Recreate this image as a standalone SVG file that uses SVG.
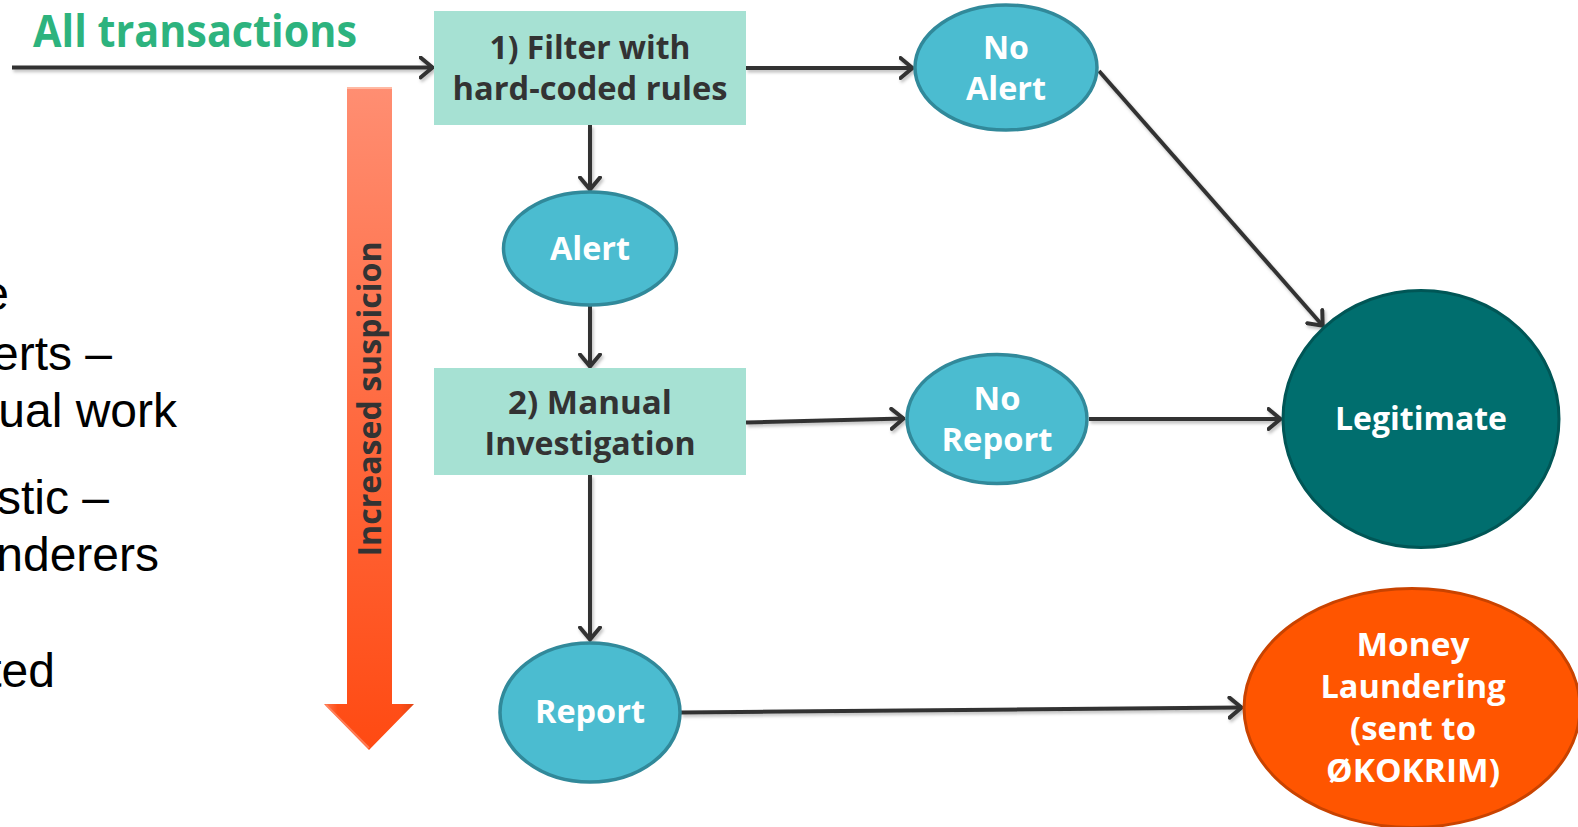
<svg xmlns="http://www.w3.org/2000/svg" width="1578" height="827" viewBox="0 0 1578 827">
  <defs>
    <style>
      .box { fill: #A6E1D3; }
      .oval { fill: #4BBCD0; stroke: #31899A; stroke-width: 3.5; }
      .legit { fill: #006E6E; stroke: #005656; stroke-width: 3; }
      .ml { fill: #FF5500; stroke: #C94300; stroke-width: 3; }
      .lbl { font-family: "Open Sans", "Noto Sans", sans-serif; font-weight: 700; text-anchor: middle; }
      .dark { fill: #333333; font-size: 32px; }
      .light { fill: #FFFFFF; font-size: 32px; }
      .conn { fill: none; stroke: #333333; stroke-width: 4; }
      .side { font-family: "Liberation Sans", Arial, sans-serif; font-size: 48px; fill: #000000; text-anchor: end; }
    </style>
    <marker id="head" viewBox="0 0 16 24" refX="14.5" refY="12" markerWidth="16" markerHeight="24" markerUnits="userSpaceOnUse" orient="auto">
      <path d="M2,2 L14,12 L2,22" fill="none" stroke="#333333" stroke-width="4" stroke-linejoin="miter" stroke-linecap="round"/>
    </marker>
    <filter id="shade" x="-5%" y="-20%" width="110%" height="140%">
      <feDropShadow dx="1.5" dy="2.5" stdDeviation="1.5" flood-color="#000000" flood-opacity="0.25"/>
    </filter>
    <linearGradient id="suspV" x1="0" y1="0" x2="0" y2="1">
      <stop offset="0" stop-color="#FF8E72"/>
      <stop offset="0.5" stop-color="#FF6A40"/>
      <stop offset="1" stop-color="#FF4A12"/>
    </linearGradient>
    <linearGradient id="suspH" x1="0" y1="0" x2="1" y2="0">
      <stop offset="0" stop-color="#FFFFFF" stop-opacity="0.25"/>
      <stop offset="0.15" stop-color="#FFFFFF" stop-opacity="0"/>
      <stop offset="0.85" stop-color="#000000" stop-opacity="0"/>
      <stop offset="1" stop-color="#000000" stop-opacity="0.12"/>
    </linearGradient>
  </defs>

  <rect width="1578" height="827" fill="#FFFFFF"/>

  <!-- cut-off bullet text on the left edge -->
  <g id="side-notes">
    <text class="side" x="9" y="310">e</text>
    <text class="side" x="112" y="370">erts –</text>
    <text class="side" x="177" y="427">ual work</text>
    <text class="side" x="109" y="514">stic –</text>
    <text class="side" x="159" y="571">nderers</text>
    <text class="side" x="55" y="687">ted</text>
  </g>

  <!-- input label -->
  <g id="input-label">
    <text x="33" y="47" font-family="'Open Sans', 'Noto Sans', sans-serif" font-weight="700" font-size="44" fill="#2DB37E" textLength="324" lengthAdjust="spacingAndGlyphs">All transactions</text>
  </g>

  <!-- suspicion scale arrow -->
  <g id="suspicion-arrow">
    <path d="M347,88 L392,88 L392,704 L414,704 L369,750 L324,704 L347,704 Z" fill="url(#suspV)"/>
    <path d="M347,88 L392,88 L392,704 L414,704 L369,750 L324,704 L347,704 Z" fill="url(#suspH)"/>
    <path d="M347,88 L392,88" stroke="#FFB9A3" stroke-width="2" fill="none"/>
    <path d="M326,705 L369,748" stroke="#FF9070" stroke-width="2" fill="none" opacity="0.7"/>
    <text transform="translate(381,399) rotate(-90)" class="lbl" font-size="32" fill="#333333" textLength="315" lengthAdjust="spacingAndGlyphs">Increased suspicion</text>
  </g>

  <!-- connectors -->
  <g id="connectors" filter="url(#shade)">
    <line class="conn" x1="12" y1="67.5" x2="433" y2="67.5" marker-end="url(#head)"/>
    <line class="conn" x1="746" y1="68" x2="913" y2="68" marker-end="url(#head)"/>
    <line class="conn" x1="590" y1="125" x2="590" y2="190" marker-end="url(#head)"/>
    <line class="conn" x1="590" y1="306" x2="590" y2="367" marker-end="url(#head)"/>
    <line class="conn" x1="746" y1="422.5" x2="904" y2="418.5" marker-end="url(#head)"/>
    <line class="conn" x1="1089" y1="419" x2="1281" y2="419" marker-end="url(#head)"/>
    <line class="conn" x1="1099" y1="71" x2="1323" y2="326" marker-end="url(#head)"/>
    <line class="conn" x1="590" y1="475" x2="590" y2="640" marker-end="url(#head)"/>
    <line class="conn" x1="681" y1="712.5" x2="1242" y2="707.5" marker-end="url(#head)"/>
  </g>

  <g id="filter-rules">
    <rect class="box" x="434" y="11" width="312" height="114"/>
    <text class="lbl dark" x="590" y="59" textLength="201" lengthAdjust="spacingAndGlyphs">1) Filter with</text>
    <text class="lbl dark" x="590" y="100" textLength="275" lengthAdjust="spacingAndGlyphs">hard-coded rules</text>
  </g>

  <g id="no-alert">
    <ellipse class="oval" cx="1006" cy="67.5" rx="91" ry="62.5"/>
    <text class="lbl light" x="1006" y="59" textLength="46" lengthAdjust="spacingAndGlyphs">No</text>
    <text class="lbl light" x="1006" y="100" textLength="80" lengthAdjust="spacingAndGlyphs">Alert</text>
  </g>

  <g id="alert">
    <ellipse class="oval" cx="590" cy="248.5" rx="86.5" ry="56.5"/>
    <text class="lbl light" x="590" y="260" textLength="80" lengthAdjust="spacingAndGlyphs">Alert</text>
  </g>

  <g id="manual-investigation">
    <rect class="box" x="434" y="368" width="312" height="107"/>
    <text class="lbl dark" x="590" y="414" textLength="164" lengthAdjust="spacingAndGlyphs">2) Manual</text>
    <text class="lbl dark" x="590" y="455" textLength="211" lengthAdjust="spacingAndGlyphs">Investigation</text>
  </g>

  <g id="no-report">
    <ellipse class="oval" cx="997" cy="419" rx="90" ry="64.5"/>
    <text class="lbl light" x="997" y="410" textLength="47" lengthAdjust="spacingAndGlyphs">No</text>
    <text class="lbl light" x="997" y="451" textLength="111" lengthAdjust="spacingAndGlyphs">Report</text>
  </g>

  <g id="legitimate">
    <ellipse class="legit" cx="1421" cy="419" rx="138" ry="128.5"/>
    <text class="lbl light" x="1421" y="430" textLength="172" lengthAdjust="spacingAndGlyphs">Legitimate</text>
  </g>

  <g id="report">
    <ellipse class="oval" cx="590" cy="712.5" rx="90" ry="69.5"/>
    <text class="lbl light" x="590" y="723" textLength="110" lengthAdjust="spacingAndGlyphs">Report</text>
  </g>

  <g id="money-laundering">
    <ellipse class="ml" cx="1412" cy="708" rx="168" ry="119.5"/>
    <text class="lbl light" x="1413" y="656" textLength="113" lengthAdjust="spacingAndGlyphs">Money</text>
    <text class="lbl light" x="1413" y="698" textLength="185" lengthAdjust="spacingAndGlyphs">Laundering</text>
    <text class="lbl light" x="1413" y="740" textLength="126" lengthAdjust="spacingAndGlyphs">(sent to</text>
    <text class="lbl light" x="1413" y="782" textLength="174" lengthAdjust="spacingAndGlyphs">ØKOKRIM)</text>
  </g>
</svg>
